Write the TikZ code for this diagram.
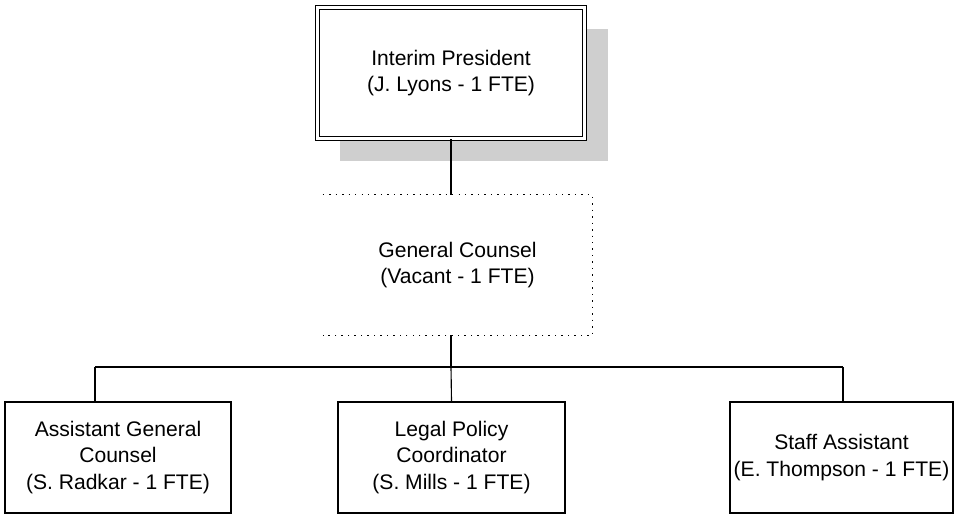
\documentclass[tikz,border=0pt]{standalone}
\usepackage{fontspec}
\setmainfont{Liberation Sans}
\usetikzlibrary{positioning,calc,backgrounds}
\definecolor{shadowgray}{gray}{0.81}
\tikzset{
  post/.style={align=center,font=\fontsize{15}{19}\selectfont,inner sep=0pt,fill=white},
  staffbox/.style={post,draw,line width=0.8pt,minimum height=2.775cm},
  headbox/.style={post,draw,double,double distance=1.8pt,line width=0.7pt,minimum width=6.68cm,minimum height=3.28cm},
  dots/.style={line width=1pt,dash pattern=on 1pt off 3.6pt},
  link/.style={line width=0.8pt}
}

\begin{document}
\begin{tikzpicture}
  \useasboundingbox (0,0) rectangle (23.875,12.9);
  \node[headbox] (pres) at (11.275,11.075) {Interim President\\(J. Lyons - 1 FTE)};
  \begin{scope}[on background layer]
    \fill[shadowgray] ($(pres.south west)+(0.575,-0.55)$) rectangle ($(pres.north east)+(0.575,-0.55)$);
  \end{scope}
  \node[post,minimum width=6.725cm,minimum height=3.5cm,fill=none] (gc) at (11.4375,6.275) {General Counsel\\(Vacant - 1 FTE)};
  \draw[dots] (gc.north west) -- (gc.north east) -- (gc.south east) -- (gc.south west);
  \node[staffbox,minimum width=5.65cm] (agc) at (2.95,1.4625) {Assistant General\\Counsel\\(S. Radkar - 1 FTE)};
  \node[staffbox,minimum width=5.675cm] (lpc) at (11.2875,1.4625) {Legal Policy\\Coordinator\\(S. Mills - 1 FTE)};
  \node[staffbox,minimum width=5.575cm] (sa) at (21.0375,1.4625) {Staff Assistant\\(E. Thompson - 1 FTE)};
  \coordinate (busL) at (2.375,3.725);
  \coordinate (busR) at (21.075,3.725);
  \draw[link] (pres.south) -- (pres.south |- gc.north);
  \draw[link] (pres.south |- gc.south) -- (pres.south |- busL);
  \draw[link] (busL) -- (busR);
  \draw[link] (busL) -- (busL |- agc.north);
  \draw[link] (pres.south |- busL) -- (lpc.north);
  \draw[link] (busR) -- (busR |- sa.north);
\end{tikzpicture}
\end{document}
